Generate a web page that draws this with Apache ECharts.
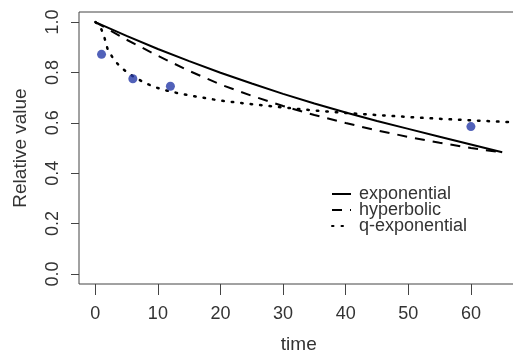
<!DOCTYPE html>
<html>
<head>
<meta charset="utf-8">
<script src="https://cdn.jsdelivr.net/npm/echarts@6/dist/echarts.min.js"></script>
<style>
html,body{margin:0;padding:0;background:#fff;}
#chart{width:513px;height:353px;}
</style>
</head>
<body>
<div id="chart"></div>
<script>
const seriesNames = ['exponential', 'hyperbolic', 'q-exponential'];

const expTime = [0, 5, 10, 15, 20, 25, 30, 35, 40, 45, 50, 55, 60, 65];
const expValue = [1.0, 0.945, 0.893, 0.845, 0.799, 0.756, 0.715, 0.677, 0.641, 0.607, 0.576, 0.545, 0.514, 0.483];

const hypTime = [0, 5, 10, 15, 20, 25, 30, 35, 40, 45, 50, 55, 60, 65];
const hypValue = [1.0, 0.93, 0.866, 0.806, 0.752, 0.707, 0.667, 0.631, 0.599, 0.57, 0.544, 0.521, 0.5, 0.482];

const qTime = [0, 0.5, 1, 1.5, 2, 3, 4, 5, 6, 8, 10, 12, 15, 20, 25, 30, 35, 40, 45, 50, 55, 60, 66];
const qValue = [1.0, 0.99, 0.97, 0.935, 0.89, 0.85, 0.822, 0.802, 0.785, 0.757, 0.738, 0.724, 0.709, 0.688, 0.674, 0.661, 0.649, 0.639, 0.631, 0.623, 0.616, 0.61, 0.603];

const obsTime = [1, 6, 12, 60];
const obsValue = [0.872, 0.775, 0.745, 0.585];

const xTicks = [0, 10, 20, 30, 40, 50, 60];
const yTicks = [0, 0.2, 0.4, 0.6, 0.8, 1.0];

const pair = (t, v) => t.map((x, i) => [x, v[i]]);
const font = 'Liberation Sans, Arial, sans-serif';
const axisGray = '#444';
const textGray = '#333';

const chart = echarts.init(document.getElementById('chart'), null, {renderer: 'canvas'});
chart.setOption({
  animation: false,
  backgroundColor: '#fff',
  grid: {left: 79, top: 12, width: 439.5, height: 272, show: true, borderColor: axisGray, borderWidth: 1,
    backgroundColor: 'transparent', containLabel: false, outerBoundsMode: 'none'},
  legend: {
    orient: 'vertical', left: 331, top: 185, padding: 0,
    itemWidth: 19, itemHeight: 14, itemGap: -2,
    itemStyle: {opacity: 0},
    textStyle: {fontFamily: font, fontSize: 18, color: textGray, lineHeight: 14, padding: [0, 0, 0, 3]},
    data: seriesNames
  },
  xAxis: {
    type: 'value', min: -2.6, max: 67.6,
    name: 'time', nameLocation: 'middle', nameGap: 51,
    nameTextStyle: {fontFamily: font, fontSize: 19, color: textGray},
    axisLine: {show: false, onZero: false},
    splitLine: {show: false},
    axisTick: {show: true, inside: false, customValues: xTicks, length: 11, lineStyle: {color: axisGray}},
    axisLabel: {customValues: xTicks, margin: 21, fontFamily: font, fontSize: 18, color: textGray}
  },
  yAxis: {
    type: 'value', min: -0.04, max: 1.04,
    name: 'Relative value', nameLocation: 'middle', nameGap: 49, nameRotate: 90,
    nameTextStyle: {fontFamily: font, fontSize: 19, color: textGray},
    axisLine: {show: false, onZero: false},
    splitLine: {show: false},
    axisTick: {show: true, inside: false, customValues: yTicks, length: 8, lineStyle: {color: axisGray}},
    axisLabel: {customValues: yTicks, rotate: 90, margin: 17, fontFamily: font, fontSize: 18, color: textGray,
      formatter: v => v.toFixed(1)}
  },
  series: [
    {name: 'exponential', type: 'line', data: pair(expTime, expValue), symbol: 'none',
      lineStyle: {color: '#000', width: 2, type: 'solid'}, itemStyle: {color: '#000'}},
    {name: 'hyperbolic', type: 'line', data: pair(hypTime, hypValue), symbol: 'none',
      lineStyle: {color: '#000', width: 2, type: [10, 8]}, itemStyle: {color: '#000'}},
    {name: 'q-exponential', type: 'line', data: pair(qTime, qValue), symbol: 'none',
      lineStyle: {color: '#000', width: 2.5, type: [1.5, 8], cap: 'round'}, itemStyle: {color: '#000'}},
    {name: 'observed', type: 'scatter', data: pair(obsTime, obsValue), symbol: 'circle', symbolSize: 9,
      itemStyle: {color: '#2639a8'}, z: 5}
  ]
});
</script>
</body>
</html>
